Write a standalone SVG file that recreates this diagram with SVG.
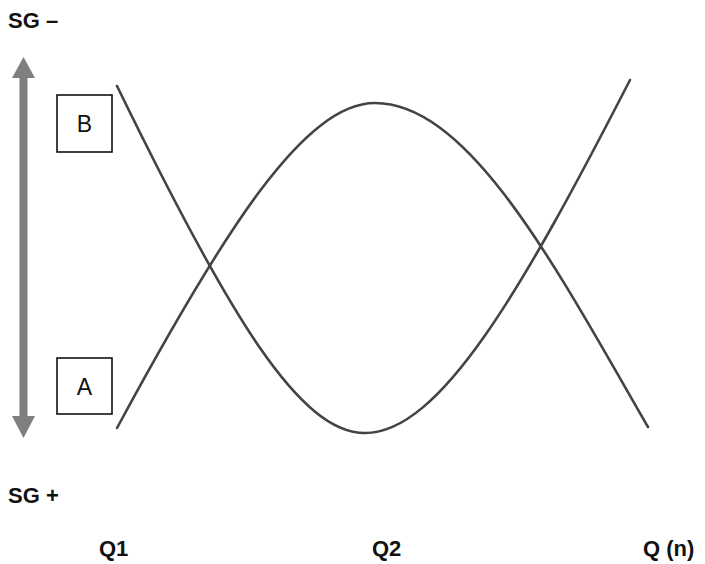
<svg xmlns="http://www.w3.org/2000/svg" width="705" height="564" viewBox="0 0 705 564">
<style>
.lbl{font-family:"Liberation Sans",Arial,sans-serif;font-weight:bold;font-size:22px;fill:#111}
.box{fill:#fff;stroke:#111;stroke-width:1.6}
.bt{font-family:"Liberation Sans",Arial,sans-serif;font-size:23px;fill:#111;text-anchor:middle}
.curve{fill:none;stroke:#444;stroke-width:2.6;stroke-linecap:round}
.axis{fill:#7f7f7f}
</style>
<rect width="705" height="564" fill="#fff"/>
<g id="axis-arrow">
<rect class="axis" x="19.5" y="76" width="8" height="342"/>
<polygon class="axis" points="12,78 35,78 23.5,57"/>
<polygon class="axis" points="12,416 35,416 23.5,438"/>
</g>
<g id="label-sg-minus"><text class="lbl" x="8" y="28">SG –</text></g>
<g id="label-sg-plus"><text class="lbl" x="8" y="503">SG +</text></g>
<g id="label-q1"><text class="lbl" x="99" y="556">Q1</text></g>
<g id="label-q2"><text class="lbl" x="372" y="556">Q2</text></g>
<g id="label-qn"><text class="lbl" x="643" y="556">Q (n)</text></g>
<g id="node-b"><rect class="box" x="57" y="95" width="55" height="57"/><text class="bt" x="84.5" y="132">B</text></g>
<g id="node-a"><rect class="box" x="57" y="358" width="55" height="56"/><text class="bt" x="84.5" y="395">A</text></g>
<g id="connectors">
<path class="curve" d="M117,86 C230,318 300,433 365,433 C440,433 522,290 630,80"/>
<path class="curve" d="M117,428 C225,228 305,103 375,103 C470,103 558,271 648,427"/>
</g>
</svg>
